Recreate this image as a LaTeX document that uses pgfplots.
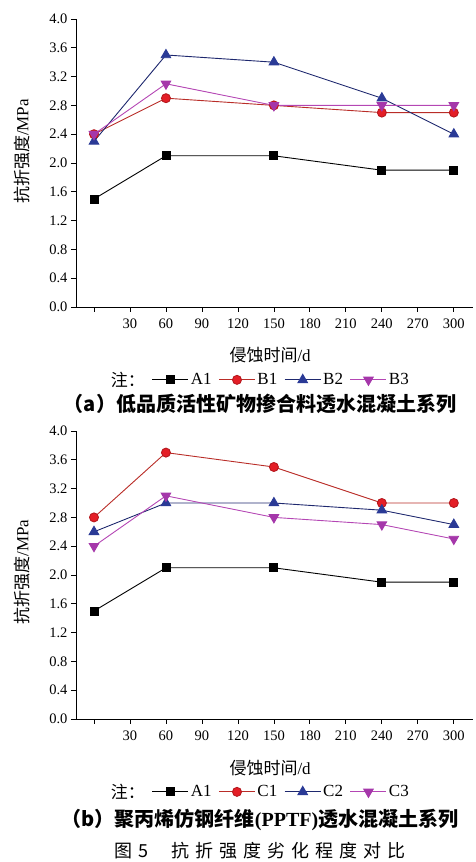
\documentclass[border=0pt]{standalone}
\usepackage{pgfplots}
\pgfplotsset{compat=1.18}
\usepackage{fontspec}
\setmainfont{Liberation Serif}
\newfontfamily\cjk{Noto Sans CJK SC}
\definecolor{redline}{RGB}{185,45,40}
\definecolor{redmark}{RGB}{228,30,38}
\definecolor{blueline}{RGB}{30,40,110}
\definecolor{bluemark}{RGB}{42,58,150}
\definecolor{magline}{RGB}{180,70,180}
\definecolor{magmark}{RGB}{165,55,170}
\pgfplotsset{
  myax/.style={
    scale only axis, width=397pt, height=288pt,
    xmin=-15, xmax=316, ymin=0, ymax=4,
    axis x line*=bottom, axis y line*=left,
    axis line style={line width=0.8pt},
    xtick={0,30,60,90,120,150,180,210,240,270,300},
    xticklabels={,30,60,90,120,150,180,210,240,270,300},
    ytick={0,0.4,0.8,1.2,1.6,2.0,2.4,2.8,3.2,3.6,4.0},
    yticklabel style={/pgf/number format/.cd,fixed,fixed zerofill,precision=1},
    /pgf/number format/assume math mode=true,
    tick align=outside, major tick length=5pt,
    tick style={line width=0.8pt, black},
    tick label style={font=\fontsize{14.5}{16}\selectfont},
    xticklabel style={yshift=-3pt},
    xlabel style={font=\fontsize{17}{19}\selectfont, anchor=center},
    ylabel style={font=\fontsize{17}{19}\selectfont, anchor=center},
    xlabel={{\cjk 侵蚀时间}/d},
    ylabel={{\cjk 抗折强度}/MPa},
    legend columns=5,
    legend image code/.code={\draw[mark repeat=2,mark phase=2] plot coordinates {(0pt,0pt) (18pt,0pt) (36pt,0pt)};},
    legend style={draw=none, fill=none, anchor=center,
      at={(axis description cs:0.463,-0.253)},
      font=\fontsize{17}{19}\selectfont,
      /tikz/every even column/.append style={column sep=5pt},
      /tikz/every odd column/.append style={column sep=0pt}},
    every axis plot/.append style={line width=0.9pt},
  },
  sA/.style={black, mark=square*, mark size=4pt, mark options={fill=black}},
  sR/.style={redline, mark=*, mark size=4.5pt, mark options={fill=redmark, draw=redmark!80!black}},
  sB/.style={blueline, mark=triangle*, mark size=5.5pt, mark options={fill=bluemark, draw=bluemark}},
  sM/.style={magline, mark=triangle*, mark size=5.5pt, mark options={rotate=180, fill=magmark, draw=magmark}},
}
\begin{document}
\begin{tikzpicture}
\useasboundingbox (0pt,0pt) rectangle (476pt,862pt);
\begin{axis}[myax, at={(76pt,555pt)}, anchor=south west,
  xlabel style={at={(axis description cs:0.489,-0.167)}},
  ylabel style={at={(axis description cs:-0.136,0.54)}}]
\addlegendimage{empty legend}\addlegendentry{\cjk 注：}
\addplot[sA] coordinates {(0,1.5) (60,2.1) (150,2.1) (240,1.9) (300,1.9)};
\addlegendentry{A1}
\addplot[sR] coordinates {(0,2.4) (60,2.9) (150,2.8) (240,2.7) (300,2.7)};
\addlegendentry{B1}
\addplot[sB] coordinates {(0,2.3) (60,3.5) (150,3.4) (240,2.9) (300,2.4)};
\addlegendentry{B2}
\addplot[sM] coordinates {(0,2.4) (60,3.1) (150,2.8) (240,2.8) (300,2.8)};
\addlegendentry{B3}
\end{axis}
\node[font=\fontsize{20}{22}\selectfont\cjk\bfseries] at (260pt,458pt) {（a）低品质活性矿物掺合料透水混凝土系列};
\begin{axis}[myax, at={(76pt,143pt)}, anchor=south west,
  xlabel style={at={(axis description cs:0.489,-0.170)}},
  ylabel style={at={(axis description cs:-0.136,0.51)}}]
\addlegendimage{empty legend}\addlegendentry{\cjk 注：}
\addplot[sA] coordinates {(0,1.5) (60,2.1) (150,2.1) (240,1.9) (300,1.9)};
\addlegendentry{A1}
\addplot[sR] coordinates {(0,2.8) (60,3.7) (150,3.5) (240,3.0) (300,3.0)};
\addlegendentry{C1}
\addplot[sB] coordinates {(0,2.6) (60,3.0) (150,3.0) (240,2.9) (300,2.7)};
\addlegendentry{C2}
\addplot[sM] coordinates {(0,2.4) (60,3.1) (150,2.8) (240,2.7) (300,2.5)};
\addlegendentry{C3}
\end{axis}
\node[font=\fontsize{20}{22}\selectfont\cjk\bfseries] at (260pt,42pt) {（b）聚丙烯仿钢纤维{\rmfamily\bfseries (PPTF)}透水混凝土系列};
\node[font=\fontsize{18}{20}\selectfont\cjk] at (260pt,11pt) {图\hspace{6pt}5\hspace{24pt}抗\hspace{6pt}折\hspace{6pt}强\hspace{6pt}度\hspace{6pt}劣\hspace{6pt}化\hspace{6pt}程\hspace{6pt}度\hspace{6pt}对\hspace{6pt}比};
\end{tikzpicture}
\end{document}
